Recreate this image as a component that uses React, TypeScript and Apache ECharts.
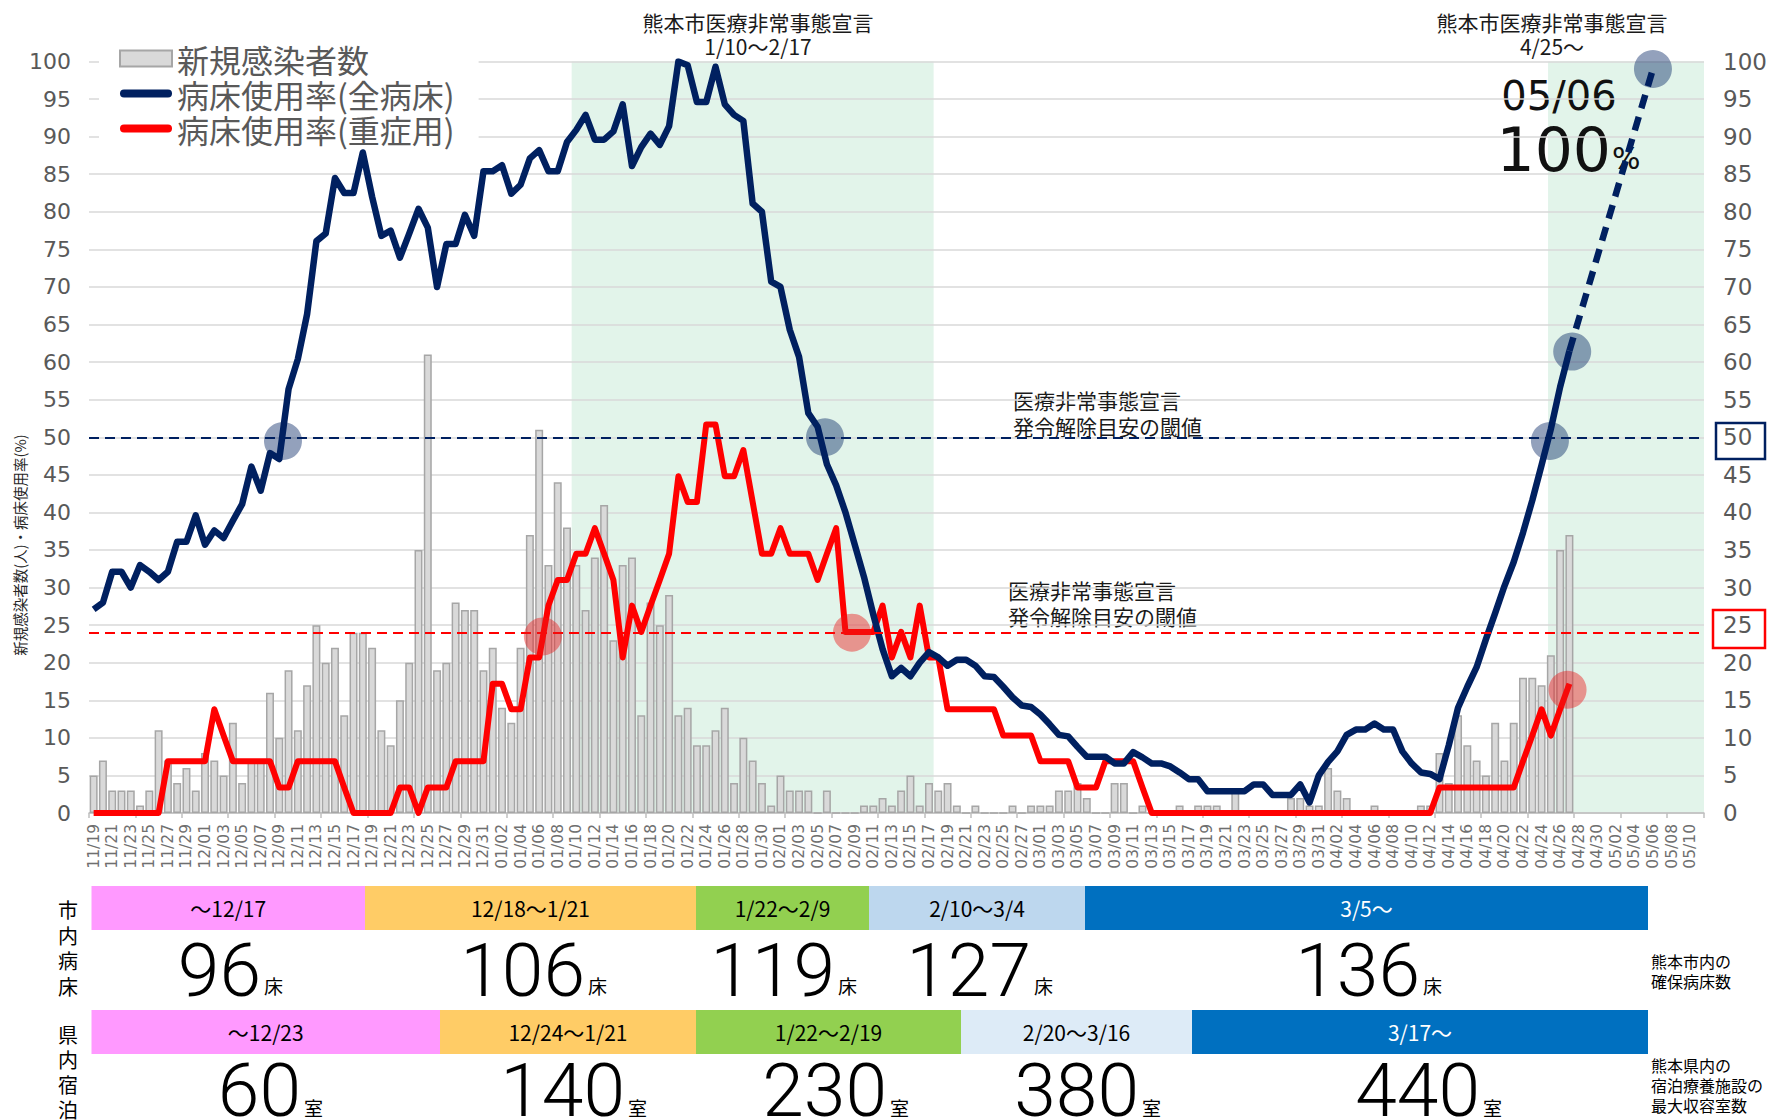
import React, { useEffect, useRef } from "react";
import * as echarts from "echarts";

// ---------- categories ----------
const monthSpans: number[][] = [
  [11, 19, 30], [12, 1, 31], [1, 1, 31], [2, 1, 28], [3, 1, 31], [4, 1, 30], [5, 1, 11],
];
const dates: string[] = [];
for (const [m, s, e] of monthSpans) {
  for (let d = s; d <= e; d++) dates.push(`${String(m).padStart(2, "0")}/${String(d).padStart(2, "0")}`);
}

// ---------- series values (from 11/19 to 04/27) ----------
const newCases = [
  5, 7, 3, 3, 3, 1, 3, 11, 7, 4,
  6, 3, 8, 7, 5, 12, 4, 7, 7, 16,
  10, 19, 11, 17, 25, 20, 22, 13, 24, 24,
  22, 11, 9, 15, 20, 35, 61, 19, 20, 28,
  27, 27, 19, 22, 14, 12, 22, 37, 51, 33,
  44, 38, 33, 27, 34, 41, 23, 33, 34, 13,
  28, 25, 29, 13, 14, 9, 9, 11, 14, 4,
  10, 7, 4, 1, 5, 3, 3, 3, 0, 3,
  0, 0, 0, 1, 1, 2, 1, 3, 5, 1,
  4, 3, 4, 1, 0, 1, 0, 0, 0, 1,
  0, 1, 1, 1, 3, 3, 4, 2, 0, 0,
  4, 4, 0, 1, 0, 0, 0, 1, 0, 1,
  1, 1, 0, 3, 0, 0, 0, 0, 0, 2,
  2, 1, 1, 6, 3, 2, 0, 0, 1, 0,
  0, 0, 0, 1, 1, 8, 4, 13, 9, 7,
  5, 12, 7, 12, 18, 18, 17, 21, 35, 37,
];

const bedAll = [
  27.1, 28, 32.1, 32.1, 30, 33, 32.1, 31, 32.1, 36.1,
  36.1, 39.6, 35.7, 37.6, 36.6, 38.9, 41.1, 46.1, 42.9, 47.9,
  47.1, 56.4, 60.4, 66.4, 76.1, 77.1, 84.5, 82.5, 82.5, 87.9,
  82, 76.8, 77.5, 73.9, 77.1, 80.4, 77.9, 70, 75.7, 75.7,
  79.6, 76.8, 85.4, 85.4, 86.2, 82.4, 83.6, 87.1, 88.2, 85.4,
  85.4, 89.3, 90.9, 92.9, 89.6, 89.6, 90.7, 94.3, 86.1, 88.6,
  90.4, 88.9, 91.4, 100, 99.5, 94.6, 94.6, 99.3, 94.3, 92.9,
  92.1, 81.1, 80, 70.7, 70, 64.3, 60.7, 53.2, 51.4, 46.4,
  43.6, 40, 35.7, 31.4, 26.4, 21.8, 18.2, 19.3, 18.2, 20,
  21.4, 20.7, 19.6, 20.4, 20.4, 19.6, 18.2, 18.1, 16.8, 15.4,
  14.3, 14.1, 13.1, 11.8, 10.4, 10.2, 8.8, 7.5, 7.5, 7.5,
  6.6, 6.6, 8.1, 7.4, 6.6, 6.6, 6.2, 5.4, 4.5, 4.5,
  2.9, 2.9, 2.9, 2.9, 2.9, 3.8, 3.8, 2.4, 2.4, 2.4,
  3.8, 1.4, 5, 6.8, 8.2, 10.4, 11.1, 11.1, 11.9, 11.1,
  11.1, 8.2, 6.6, 5.4, 5.2, 4.5, 9, 14, 16.8, 19.4,
  23.1, 26.6, 30.2, 33.4, 37.3, 41.6, 46.3, 51.1, 56.7, 61.5,
];

const bedSevere = [
  0, 0, 0, 0, 0, 0, 0, 0, 6.9, 6.9,
  6.9, 6.9, 6.9, 13.8, 10.3, 6.9, 6.9, 6.9, 6.9, 6.9,
  3.4, 3.4, 6.9, 6.9, 6.9, 6.9, 6.9, 3.4, 0, 0,
  0, 0, 0, 3.4, 3.4, 0, 3.4, 3.4, 3.4, 6.9,
  6.9, 6.9, 6.9, 17.2, 17.2, 13.8, 13.8, 20.7, 20.7, 27.6,
  31, 31, 34.5, 34.5, 37.9, 34.5, 31, 20.7, 27.6, 24.1,
  27.6, 31, 34.5, 44.8, 41.4, 41.4, 51.7, 51.7, 44.8, 44.8,
  48.3, 41.4, 34.5, 34.5, 37.9, 34.5, 34.5, 34.5, 31, 34.5,
  37.9, 24.1, 24.1, 24.1, 24.1, 27.6, 20.7, 24.1, 20.7, 27.6,
  20.7, 20.7, 13.8, 13.8, 13.8, 13.8, 13.8, 13.8, 10.3, 10.3,
  10.3, 10.3, 6.9, 6.9, 6.9, 6.9, 3.4, 3.4, 3.4, 6.9,
  6.9, 6.9, 6.9, 3.4, 0, 0, 0, 0, 0, 0,
  0, 0, 0, 0, 0, 0, 0, 0, 0, 0,
  0, 0, 0, 0, 0, 0, 0, 0, 0, 0,
  0, 0, 0, 0, 0, 3.4, 3.4, 3.4, 3.4, 3.4,
  3.4, 3.4, 3.4, 3.4, 6.9, 10.3, 13.8, 10.3, 13.8, 17.2,
];

// projection of all-bed usage: last actual (04/27) to 05/06
const projectionPoints: [string, number][] = [["04/27", 61.5], ["05/06", 99]];

// highlighted points (category position, value)
const blueMarks: [number, number][] = [[20.4, 49.5], [78.8, 50], [156.9, 49.5], [159.3, 61.4], [168, 99]];
const redMarks: [number, number][] = [[48.4, 23.5], [81.7, 24], [158.8, 16.4]];

const THRESHOLD_ALL = 50;
const THRESHOLD_SEV = 24;

// declaration periods
const declarations: [string, string | null][] = [["01/10", "02/17"], ["04/25", null]];

// ---------- table ----------
const bedPeriods = ["～12/17", "12/18～1/21", "1/22～2/9", "2/10～3/4", "3/5～"];
const bedCounts = [96, 106, 119, 127, 136];
const roomPeriods = ["～12/23", "12/24～1/21", "1/22～2/19", "2/20～3/16", "3/17～"];
const roomCounts = [60, 140, 230, 380, 440];

const yTicks = { min: 0, max: 100, interval: 5 };

const S_BAR = "新規感染者数";
const S_ALL = "病床使用率(全病床)";
const S_SEV = "病床使用率(重症用)";

const FONT_JP = '"Noto Sans CJK JP", "Noto Sans", sans-serif';
const FONT_BIG = 'Roboto, "Liberation Sans", sans-serif';
const FONT_WIDE = '"DejaVu Sans", "Noto Sans", sans-serif';

function txt(text: string, x: number, y: number, size: number, extra: any = {}) {
  return {
    type: "text",
    x,
    y,
    silent: true,
    style: {
      text,
      fontSize: size,
      fontFamily: FONT_JP,
      fill: "#000",
      align: "center",
      verticalAlign: "middle",
      ...extra,
    },
  };
}

function buildGraphics() {
  const els: any[] = [];
  // y axis name
  els.push({
    ...txt("新規感染者数(人)・病床使用率(%)", 19, 545, 14.5, { fill: "#262626" }),
    rotation: Math.PI / 2,
  });
  // top titles
  els.push(txt("熊本市医療非常事態宣言\n1/10～2/17", 758, 34, 21, { lineHeight: 24.5, fill: "#1a1a1a" }));
  els.push(txt("熊本市医療非常事態宣言\n4/25～", 1552, 34, 21, { lineHeight: 24.5, fill: "#1a1a1a" }));
  // threshold notes
  els.push(txt("医療非常事態宣言\n発令解除目安の閾値", 1013, 413, 21, { align: "left", lineHeight: 26.5, fill: "#1a1a1a" }));
  els.push(txt("医療非常事態宣言\n発令解除目安の閾値", 1008, 603, 21, { align: "left", lineHeight: 26.5, fill: "#1a1a1a" }));
  // 05/06 100%
  els.push(txt("05/06", 1559, 96, 40, { fontFamily: FONT_WIDE, fill: "#111", lineHeight: 40 }));
  els.push(txt("100", 1611, 150, 60, { fontFamily: FONT_WIDE, align: "right", fill: "#111", lineHeight: 48 }));
  els.push(txt("%", 1612, 158, 30, { fontFamily: FONT_WIDE, align: "left", fill: "#111", lineHeight: 26 }));
  // right axis boxes
  els.push({ type: "rect", silent: true, shape: { x: 1716, y: 423, width: 49, height: 36 }, style: { fill: "none", stroke: "#002060", lineWidth: 2.5 } });
  els.push({ type: "rect", silent: true, shape: { x: 1713, y: 610, width: 52, height: 38 }, style: { fill: "none", stroke: "#ff0000", lineWidth: 2.5 } });

  // table
  const bedEdges = [91.5, 365, 696, 869, 1085, 1648];
  const roomEdges = [91.5, 440, 696, 961, 1192, 1648];
  const bedColors = ["#FF99FF", "#FFCC66", "#92D050", "#BDD7EE", "#0070C0"];
  const roomColors = ["#FF99FF", "#FFCC66", "#92D050", "#DDEBF7", "#0070C0"];
  const bedUnitX = [264, 588, 838, 1034, 1423];
  const roomUnitX = [304, 628, 890, 1142, 1483];
  const rows = [
    { periods: bedPeriods, counts: bedCounts, edges: bedEdges, colors: bedColors, unitX: bedUnitX, unit: "床", y: 886, numY: 970, unitY: 985 },
    { periods: roomPeriods, counts: roomCounts, edges: roomEdges, colors: roomColors, unitX: roomUnitX, unit: "室", y: 1010, numY: 1090, unitY: 1107 },
  ];
  rows.forEach((r) => {
    r.periods.forEach((p, i) => {
      const x0 = r.edges[i];
      const x1 = r.edges[i + 1];
      els.push({ type: "rect", silent: true, shape: { x: x0, y: r.y, width: x1 - x0, height: 44 }, style: { fill: r.colors[i] } });
      els.push(txt(p, (x0 + x1) / 2, r.y + 22, 21, { fill: i === 4 ? "#fff" : "#000", lineHeight: 22 }));
      els.push(txt(String(r.counts[i]), r.unitX[i] - 3, r.numY, 75, { fontFamily: FONT_BIG, fontWeight: 300, align: "right", fill: "#000", lineHeight: 54 }));
      els.push(txt(r.unit, r.unitX[i], r.unitY, 19, { align: "left", fill: "#000", lineHeight: 19 }));
    });
  });
  // row headers
  els.push(txt("市\n内\n病\n床", 68, 948, 20, { lineHeight: 25.7 }));
  els.push(txt("県\n内\n宿\n泊", 68, 1072, 20, { lineHeight: 25.3 }));
  // right notes
  els.push(txt("熊本市内の\n確保病床数", 1651, 971, 16, { align: "left", lineHeight: 20 }));
  els.push(txt("熊本県内の\n宿泊療養施設の\n最大収容室数", 1651, 1085, 16, { align: "left", lineHeight: 20 }));
  return els;
}

export default function App() {
  const ref = useRef<HTMLDivElement>(null);
  useEffect(() => {
    document.body.style.margin = "0";
    if (!ref.current) return;
    const chart = echarts.init(ref.current, undefined, { renderer: "svg" });

    const projection: (number | null)[] = dates.map(() => null);
    projectionPoints.forEach(([d, v]) => {
      projection[dates.indexOf(d)] = v;
    });

    const bands = declarations.map(([s, e]) => [
      { xAxis: dates.indexOf(s) - 0.5 + (e === null ? 0.2 : 0) },
      { xAxis: e === null ? dates.length - 0.5 : dates.indexOf(e) + 0.5 },
    ]);

    const LINE_ICON = "path://M4,0 L48,0 A4,4 0 0,1 48,8 L4,8 A4,4 0 0,1 4,0 Z";

    const option: any = {
      animation: false,
      backgroundColor: "#fff",
      grid: { left: 89, right: 68, top: 61.5, bottom: 307, outerBoundsMode: "none" },
      legend: {
        orient: "vertical",
        left: 99,
        top: 38.5,
        padding: [4, 24, 4, 20],
        backgroundColor: "#fff",
        itemWidth: 52,
        itemHeight: 16,
        itemGap: 3,
        textStyle: { fontSize: 32, color: "#595959", fontFamily: FONT_JP, lineHeight: 32 },
        data: [
          { name: S_BAR, icon: "rect", itemStyle: { color: "#d9d9d9", borderColor: "#a6a6a6", borderWidth: 2 } },
          { name: S_ALL, icon: LINE_ICON, itemStyle: { color: "#002060", borderWidth: 0 } },
          { name: S_SEV, icon: LINE_ICON, itemStyle: { color: "#ff0000", borderWidth: 0 } },
        ],
      },
      xAxis: [
        {
          type: "category",
          data: dates,
          boundaryGap: true,
          axisLine: { lineStyle: { color: "#bfbfbf", width: 1.5 } },
          axisTick: { show: true, interval: 4, length: 5, lineStyle: { color: "#bfbfbf", width: 1.5 } },
          axisLabel: { interval: 1, rotate: 90, fontSize: 15.5, lineHeight: 15, color: "#6f6f6f", margin: 11, fontFamily: FONT_WIDE },
          splitLine: { show: false },
        },
        { type: "value", min: -0.5, max: dates.length - 0.5, show: false },
      ],
      yAxis: [
        {
          type: "value",
          ...yTicks,
          axisLabel: { fontSize: 22, color: "#595959", margin: 18, fontFamily: FONT_WIDE },
          splitLine: { lineStyle: { color: "#d9d9d9", width: 1.5 } },
          axisLine: { show: false },
          axisTick: { show: false },
        },
        {
          type: "value",
          position: "right",
          ...yTicks,
          axisLabel: { fontSize: 23, color: "#595959", margin: 19, fontFamily: FONT_WIDE },
          splitLine: { show: false },
          axisLine: { show: false },
          axisTick: { show: false },
        },
      ],
      series: [
        {
          type: "scatter",
          name: "band",
          xAxisIndex: 1,
          yAxisIndex: 0,
          data: [],
          silent: true,
          z: -1,
          markArea: { silent: true, z: -1, itemStyle: { color: "#E2F4EA" }, data: bands },
        },
        {
          type: "bar",
          name: S_BAR,
          data: newCases,
          barCategoryGap: "14%",
          itemStyle: { color: "#d9d9d9", borderColor: "#a6a6a6", borderWidth: 1.5 },
          z: 2,
        },
        {
          type: "line",
          name: S_SEV,
          data: bedSevere,
          color: "#ff0000",
          symbol: "none",
          lineStyle: { color: "#ff0000", width: 6, join: "round" },
          z: 3,
          markLine: {
            silent: true,
            symbol: ["none", "none"],
            label: { show: false },
            lineStyle: { color: "#ff0000", type: [10, 6], width: 2 },
            data: [{ yAxis: THRESHOLD_SEV }],
          },
        },
        {
          type: "line",
          name: S_ALL,
          data: bedAll,
          color: "#002060",
          symbol: "none",
          lineStyle: { color: "#002060", width: 6.5, join: "round" },
          z: 4,
          markLine: {
            silent: true,
            symbol: ["none", "none"],
            label: { show: false },
            lineStyle: { color: "#002060", type: [10, 6], width: 2 },
            data: [{ yAxis: THRESHOLD_ALL }],
          },
        },
        {
          type: "line",
          name: "見込み",
          data: projection,
          connectNulls: true,
          symbol: "none",
          color: "#002060",
          lineStyle: { color: "#002060", width: 6.5, type: [14, 9] },
          z: 4,
        },
        {
          type: "scatter",
          name: "mark-all",
          xAxisIndex: 1,
          data: blueMarks,
          symbolSize: 38,
          itemStyle: { color: "rgba(0,32,96,0.53)" },
          z: 5,
          silent: true,
        },
        {
          type: "scatter",
          name: "mark-sev",
          xAxisIndex: 1,
          data: redMarks,
          symbolSize: 38,
          itemStyle: { color: "rgba(235,25,25,0.55)" },
          z: 5,
          silent: true,
        },
      ],
      graphic: { elements: buildGraphics() },
    };
    chart.setOption(option);
    return () => chart.dispose();
  }, []);
  return <div ref={ref} style={{ width: 1772, height: 1120 }} />;
}
